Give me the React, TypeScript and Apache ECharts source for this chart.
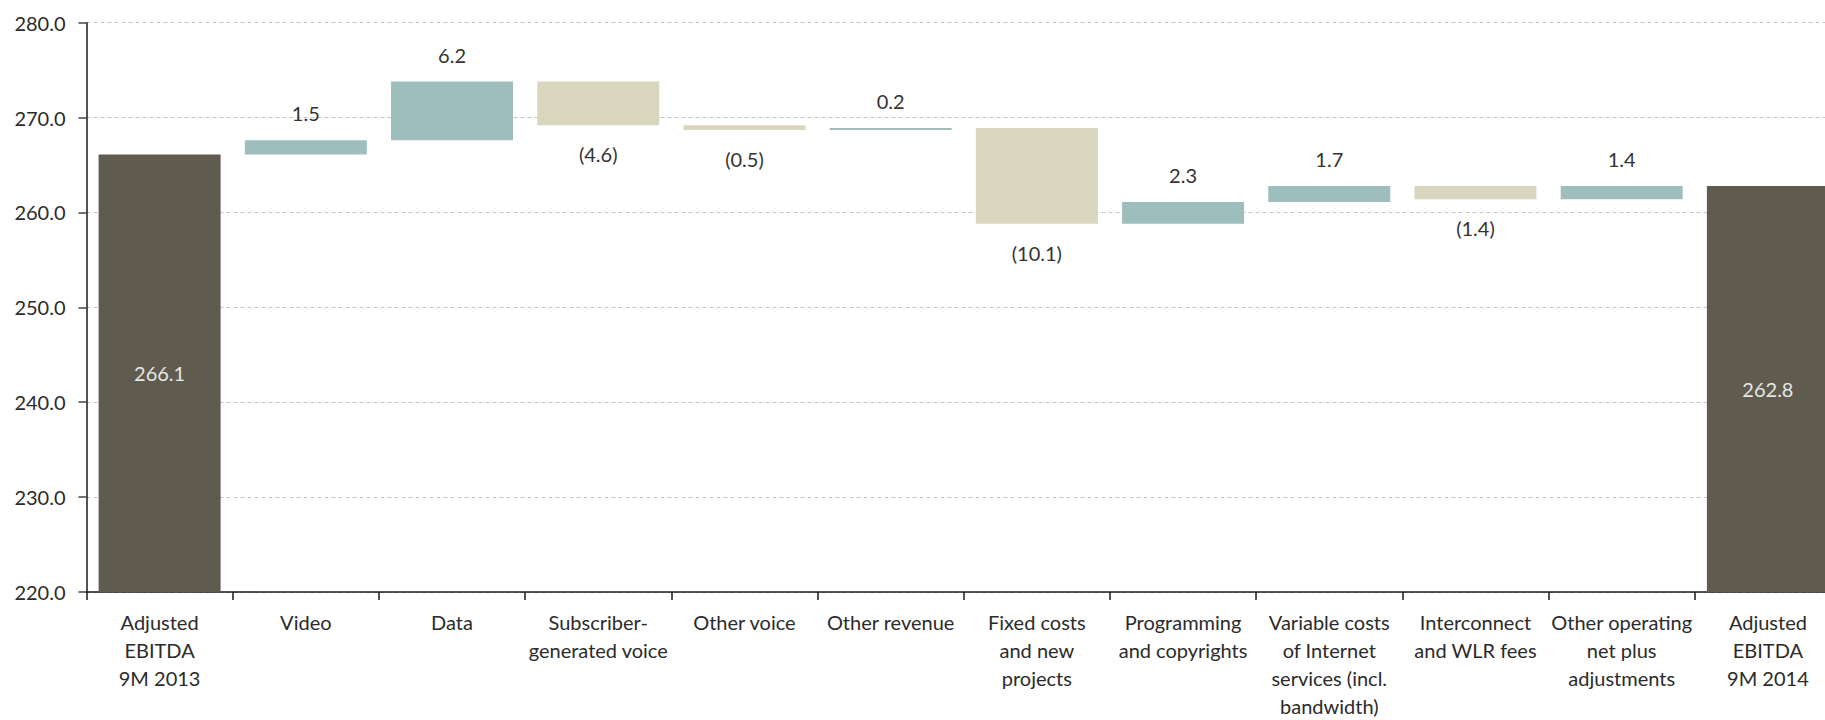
import React, { useEffect, useRef } from "react";
import * as echarts from "echarts";

const categories = [
  "Adjusted\nEBITDA\n9M 2013",
  "Video",
  "Data",
  "Subscriber-\ngenerated voice",
  "Other voice",
  "Other revenue",
  "Fixed costs\nand new\nprojects",
  "Programming\nand copyrights",
  "Variable costs\nof Internet\nservices (incl.\nbandwidth)",
  "Interconnect\nand WLR fees",
  "Other operating\nnet plus\nadjustments",
  "Adjusted\nEBITDA\n9M 2014",
];

const startTotal = 266.1;
const endTotal = 262.8;
const changes = [1.5, 6.2, -4.6, -0.5, 0.2, -10.1, 2.3, 1.7, -1.4, 1.4];

const yMin = 220;
const yMax = 280;
const yInterval = 10;

const COLOR_TOTAL = "#5f5b4f";
const COLOR_UP = "#9dbebc";
const COLOR_DOWN = "#d8d6bf";
const FONT = "Lato";

export default function App() {
  const ref = useRef<HTMLDivElement>(null);

  useEffect(() => {
    if (!ref.current) return;
    const chart = echarts.init(ref.current, undefined, { renderer: "svg" });

    const baseData: any[] = [];
    const valueData: any[] = [];

    baseData.push(0);
    valueData.push({
      value: startTotal,
      itemStyle: { color: COLOR_TOTAL },
      label: {
        show: true,
        position: "inside",
        color: "#e6e6e6",
        formatter: startTotal.toFixed(1),
      },
    });

    let running = startTotal;
    changes.forEach((d) => {
      const next = Math.round((running + d) * 10) / 10;
      const base = Math.min(running, next);
      baseData.push(base);
      valueData.push({
        value: Math.abs(d),
        itemStyle: { color: d >= 0 ? COLOR_UP : COLOR_DOWN },
        label: {
          show: true,
          position: d >= 0 ? "top" : "bottom",
          distance: d >= 0 ? 17 : 19,
          color: "#333333",
          formatter: d >= 0 ? d.toFixed(1) : "(" + Math.abs(d).toFixed(1) + ")",
        },
      });
      running = next;
    });

    baseData.push(0);
    valueData.push({
      value: endTotal,
      itemStyle: { color: COLOR_TOTAL },
      label: {
        show: true,
        position: "inside",
        color: "#e6e6e6",
        formatter: endTotal.toFixed(1),
      },
    });

    chart.setOption({
      animation: false,
      textStyle: { fontFamily: FONT },
      grid: { left: 86.5, top: 22.7, right: 0, bottom: 120.7, containLabel: false },
      xAxis: {
        type: "category",
        data: categories,
        axisLine: { show: true, lineStyle: { color: "#1a1a1a", width: 1.5 } },
        axisTick: { show: true, length: 8, lineStyle: { color: "#1a1a1a", width: 1.5 } },
        axisLabel: {
          interval: 0,
          margin: 16,
          fontFamily: FONT,
          fontSize: 20,
          lineHeight: 28,
          color: "#2b2b2b",
          align: "center",
        },
      },
      yAxis: {
        type: "value",
        min: yMin,
        max: yMax,
        interval: yInterval,
        axisLine: { show: true, lineStyle: { color: "#1a1a1a", width: 1.5 } },
        axisTick: { show: true, length: 8, lineStyle: { color: "#444444", width: 1.5 } },
        axisLabel: {
          margin: 21,
          fontFamily: FONT,
          fontSize: 20,
          color: "#2b2b2b",
          formatter: (v: number) => v.toFixed(1),
        },
        splitLine: {
          show: true,
          lineStyle: { color: "#c4c4c4", type: [4, 3], width: 1 },
        },
      },
      series: [
        {
          type: "bar",
          stack: "w",
          data: baseData,
          barWidth: 122,
          itemStyle: { color: "transparent" },
          emphasis: { disabled: true },
          silent: true,
        },
        {
          type: "bar",
          stack: "w",
          data: valueData,
          barWidth: 122,
          label: { fontFamily: FONT, fontSize: 20 },
          emphasis: { disabled: true },
        },
      ],
    });

    return () => chart.dispose();
  }, []);

  return (
    <div
      style={{
        position: "absolute",
        left: 0,
        top: 0,
        width: 1825,
        height: 720,
        overflow: "hidden",
      }}
    >
      <div ref={ref} style={{ width: 1841, height: 720 }} />
    </div>
  );
}
